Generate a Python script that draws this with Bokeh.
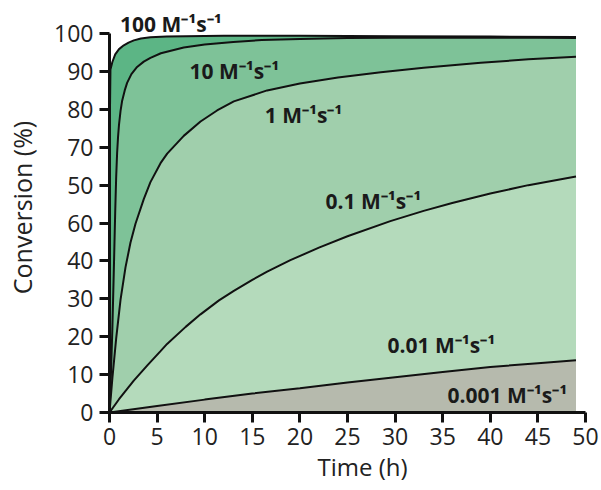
from bokeh.plotting import figure
from bokeh.models import Range1d, FixedTicker, Label, Title
from bokeh.embed import file_html
from bokeh.resources import INLINE

# ---- data ----
t_100 = [0, 0.02, 0.05, 0.1, 0.3, 0.6, 1.0, 1.5, 2.0, 2.55, 3.3, 4.3, 6, 8, 12, 20, 30, 40, 49]
c_100 = [0, 45, 80, 90.5, 92.5, 94.5, 95.9, 96.9, 97.6, 98.2, 98.7, 99.0, 99.2, 99.3, 99.4, 99.4, 99.3, 99.2, 99.1]

t_10 = [0, 0.15, 0.3, 0.45, 0.6, 0.7, 0.8, 0.9, 1.0, 1.16, 1.33, 1.6, 1.85, 2.3, 2.9, 3.6, 4.3, 5.4, 7.8, 10, 13, 16, 20, 25, 30, 35, 40, 45, 49]
c_10 = [0, 10, 22, 37, 53, 62, 68.5, 72.8, 76, 79.6, 82.3, 85.0, 87.0, 89.3, 91.2, 92.6, 93.6, 94.8, 96.3, 97.1, 97.8, 98.3, 98.6, 98.8, 98.9, 98.9, 98.9, 98.9, 98.8]

t_1 = [0, 0.3, 0.7, 1.16, 1.68, 2.2, 2.73, 3.6, 4.3, 5.36, 6.06, 7.8, 9.56, 11.3, 13.06, 16.56, 20, 24, 28.5, 33, 39, 44, 49]
c_1 = [0, 9, 19.5, 29.8, 38.3, 44.8, 49.8, 56.3, 60.8, 65.8, 68.3, 73.0, 76.8, 79.7, 82.1, 85.0, 86.8, 88.4, 89.8, 91.0, 92.3, 93.2, 93.9]

t_01 = [0, 1, 2.55, 4, 5.36, 6.05, 8, 9.56, 11.5, 13.06, 15, 16.56, 19, 22, 25, 29.5, 33, 36, 40, 44, 49]
c_01 = [0, 3.5, 8.4, 12.5, 16.2, 18.1, 22.6, 25.9, 29.6, 32.1, 35.0, 37.2, 40.2, 43.5, 46.5, 50.5, 53.2, 55.3, 57.8, 60.0, 62.3]

t_001 = [0, 5, 10, 15, 20, 25, 30, 35, 40, 45, 49]
c_001 = [0, 1.7, 3.4, 5.0, 6.4, 7.9, 9.3, 10.7, 12.0, 13.0, 13.8]

x_ticks = [0, 5, 10, 15, 20, 25, 30, 35, 40, 45, 50]
y_ticks = [0, 10, 20, 30, 40, 50, 60, 70, 80, 90, 100]
y_tick_labels = ["0", "10", "20", "30", "40", "60", "50", "70", "80", "90", "100"]

series = [
    (t_100, c_100, "#5cb585"),
    (t_10, c_10, "#7ec298"),
    (t_1, c_1, "#a0cfac"),
    (t_01, c_01, "#b4dabb"),
    (t_001, c_001, "#b6baad"),
]

labels = [
    ("100 M⁻¹s⁻¹", 1.1, 102.4),
    ("10 M⁻¹s⁻¹", 8.4, 90.2),
    ("1 M⁻¹s⁻¹", 16.3, 78.4),
    ("0.1 M⁻¹s⁻¹", 22.7, 55.9),
    ("0.01 M⁻¹s⁻¹", 29.2, 17.7),
    ("0.001 M⁻¹s⁻¹", 35.5, 4.5),
]

FONT = "Open Sans"

p = figure(width=601, height=490, x_range=Range1d(0, 50), y_range=Range1d(0, 108.2),
           output_backend="svg", toolbar_location=None,
           min_border_left=109, min_border_right=16, min_border_top=2, min_border_bottom=78)
p.outline_line_color = None
p.grid.visible = False
p.background_fill_color = "white"
p.border_fill_color = "white"

for t, c, col in series:
    p.varea(x=t, y1=0, y2=c, fill_color=col, fill_alpha=1.0)
for t, c, col in series:
    p.line(t, c, line_color="#111111", line_width=2)

for ax, ticks in ((p.xaxis, x_ticks), (p.yaxis, y_ticks)):
    ax.ticker = FixedTicker(ticks=ticks)
    ax.axis_line_width = 3
    ax.axis_line_color = "#111111"
    ax.major_tick_line_width = 3
    ax.major_tick_line_color = "#111111"
    ax.major_tick_out = 10
    ax.major_tick_in = 0
    ax.minor_tick_line_color = None
    ax.major_label_text_font = FONT
    ax.major_label_text_font_size = "23px"
    ax.major_label_text_color = "#222222"

p.yaxis.bounds = (0, 100)
p.xaxis.bounds = (0, 50)
p.xaxis.major_label_standoff = 5
p.yaxis.major_label_standoff = 6
p.yaxis.major_label_overrides = {v: s for v, s in zip(y_ticks, y_tick_labels)}

p.yaxis.axis_label = "Conversion (%)"
p.yaxis.axis_label_standoff = 12
p.yaxis.axis_label_text_font = FONT
p.yaxis.axis_label_text_font_size = "25px"
p.yaxis.axis_label_text_font_style = "normal"
p.yaxis.axis_label_text_color = "#222222"

p.add_layout(Title(text="Time (h)", align="left", offset=208, standoff=0,
                   vertical_align="bottom", text_line_height=1.5,
                   text_font=FONT, text_font_size="24px", text_font_style="normal",
                   text_color="#222222"), "below")

for txt, x, y in labels:
    p.add_layout(Label(x=x, y=y, text=txt, text_font=FONT, text_font_size="21px",
                       text_font_style="bold", text_color="#1a1a1a",
                       text_baseline="middle", text_align="left"))

open("out.html", "w").write(file_html(p, INLINE))
